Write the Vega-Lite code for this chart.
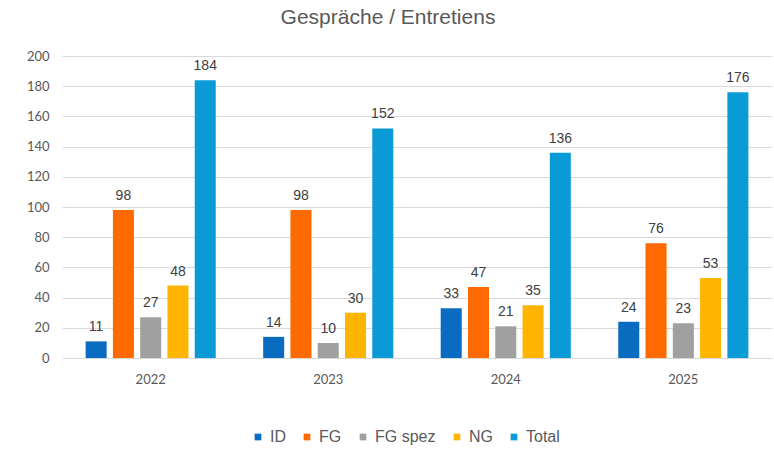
{
  "$schema": "https://vega.github.io/schema/vega-lite/v6.json",
  "autosize": {"type": "none"},
  "width": 710,
  "height": 302,
  "padding": {"left": 62, "top": 56, "right": 2, "bottom": 91},
  "background": "white",
  "title": {
    "text": "Gespräche / Entretiens",
    "font": "Liberation Sans",
    "fontSize": 21,
    "fontWeight": "normal",
    "color": "#595959",
    "anchor": "middle",
    "dx": -29,
    "offset": 22
  },
  "data": {
    "values": [
      {"year": "2022", "series": "ID", "value": 11},
      {"year": "2022", "series": "FG", "value": 98},
      {"year": "2022", "series": "FG spez", "value": 27},
      {"year": "2022", "series": "NG", "value": 48},
      {"year": "2022", "series": "Total", "value": 184},
      {"year": "2023", "series": "ID", "value": 14},
      {"year": "2023", "series": "FG", "value": 98},
      {"year": "2023", "series": "FG spez", "value": 10},
      {"year": "2023", "series": "NG", "value": 30},
      {"year": "2023", "series": "Total", "value": 152},
      {"year": "2024", "series": "ID", "value": 33},
      {"year": "2024", "series": "FG", "value": 47},
      {"year": "2024", "series": "FG spez", "value": 21},
      {"year": "2024", "series": "NG", "value": 35},
      {"year": "2024", "series": "Total", "value": 136},
      {"year": "2025", "series": "ID", "value": 24},
      {"year": "2025", "series": "FG", "value": 76},
      {"year": "2025", "series": "FG spez", "value": 23},
      {"year": "2025", "series": "NG", "value": 53},
      {"year": "2025", "series": "Total", "value": 176}
    ]
  },
  "encoding": {
    "x": {
      "field": "year",
      "type": "nominal",
      "scale": {"paddingInner": 0.267, "paddingOuter": 0.133},
      "axis": {
        "title": null,
        "labelAngle": 0,
        "labelFont": "Lato",
        "labelFontSize": 13,
        "labelColor": "#595959",
        "labelPadding": 15,
        "ticks": false,
        "domain": false
      }
    },
    "xOffset": {
      "field": "series",
      "type": "nominal",
      "sort": ["ID", "FG", "FG spez", "NG", "Total"],
      "scale": {"paddingInner": 0.229, "paddingOuter": 0}
    },
    "y": {
      "field": "value",
      "type": "quantitative",
      "scale": {"domain": [0, 200], "nice": false},
      "axis": {
        "title": null,
        "values": [0, 20, 40, 60, 80, 100, 120, 140, 160, 180, 200],
        "labelFont": "Lato",
        "labelFontSize": 13,
        "labelColor": "#595959",
        "labelPadding": 13,
        "ticks": false,
        "domain": false,
        "gridColor": "#d9d9d9",
        "gridWidth": 1
      }
    }
  },
  "layer": [
    {
      "mark": {"type": "bar"},
      "encoding": {
        "color": {
          "field": "series",
          "type": "nominal",
          "sort": ["ID", "FG", "FG spez", "NG", "Total"],
          "scale": {
            "domain": ["ID", "FG", "FG spez", "NG", "Total"],
            "range": ["#0a6cc0", "#ff6a00", "#a0a0a0", "#ffb400", "#0a9ad6"]
          },
          "legend": {
            "title": null,
            "orient": "none",
            "direction": "horizontal",
            "legendX": 188,
            "legendY": 373,
            "symbolType": "square",
            "symbolSize": 45,
            "symbolStrokeWidth": 0,
            "labelFont": "Liberation Sans",
            "labelFontSize": 16,
            "labelColor": "#595959",
            "labelOffset": 4,
            "columnPadding": 13
          }
        }
      }
    },
    {
      "mark": {
        "type": "text",
        "baseline": "alphabetic",
        "dy": -10,
        "font": "Liberation Sans",
        "fontSize": 14,
        "color": "#404040"
      },
      "encoding": {
        "text": {"field": "value", "type": "quantitative"}
      }
    }
  ],
  "config": {
    "view": {"stroke": null}
  }
}
